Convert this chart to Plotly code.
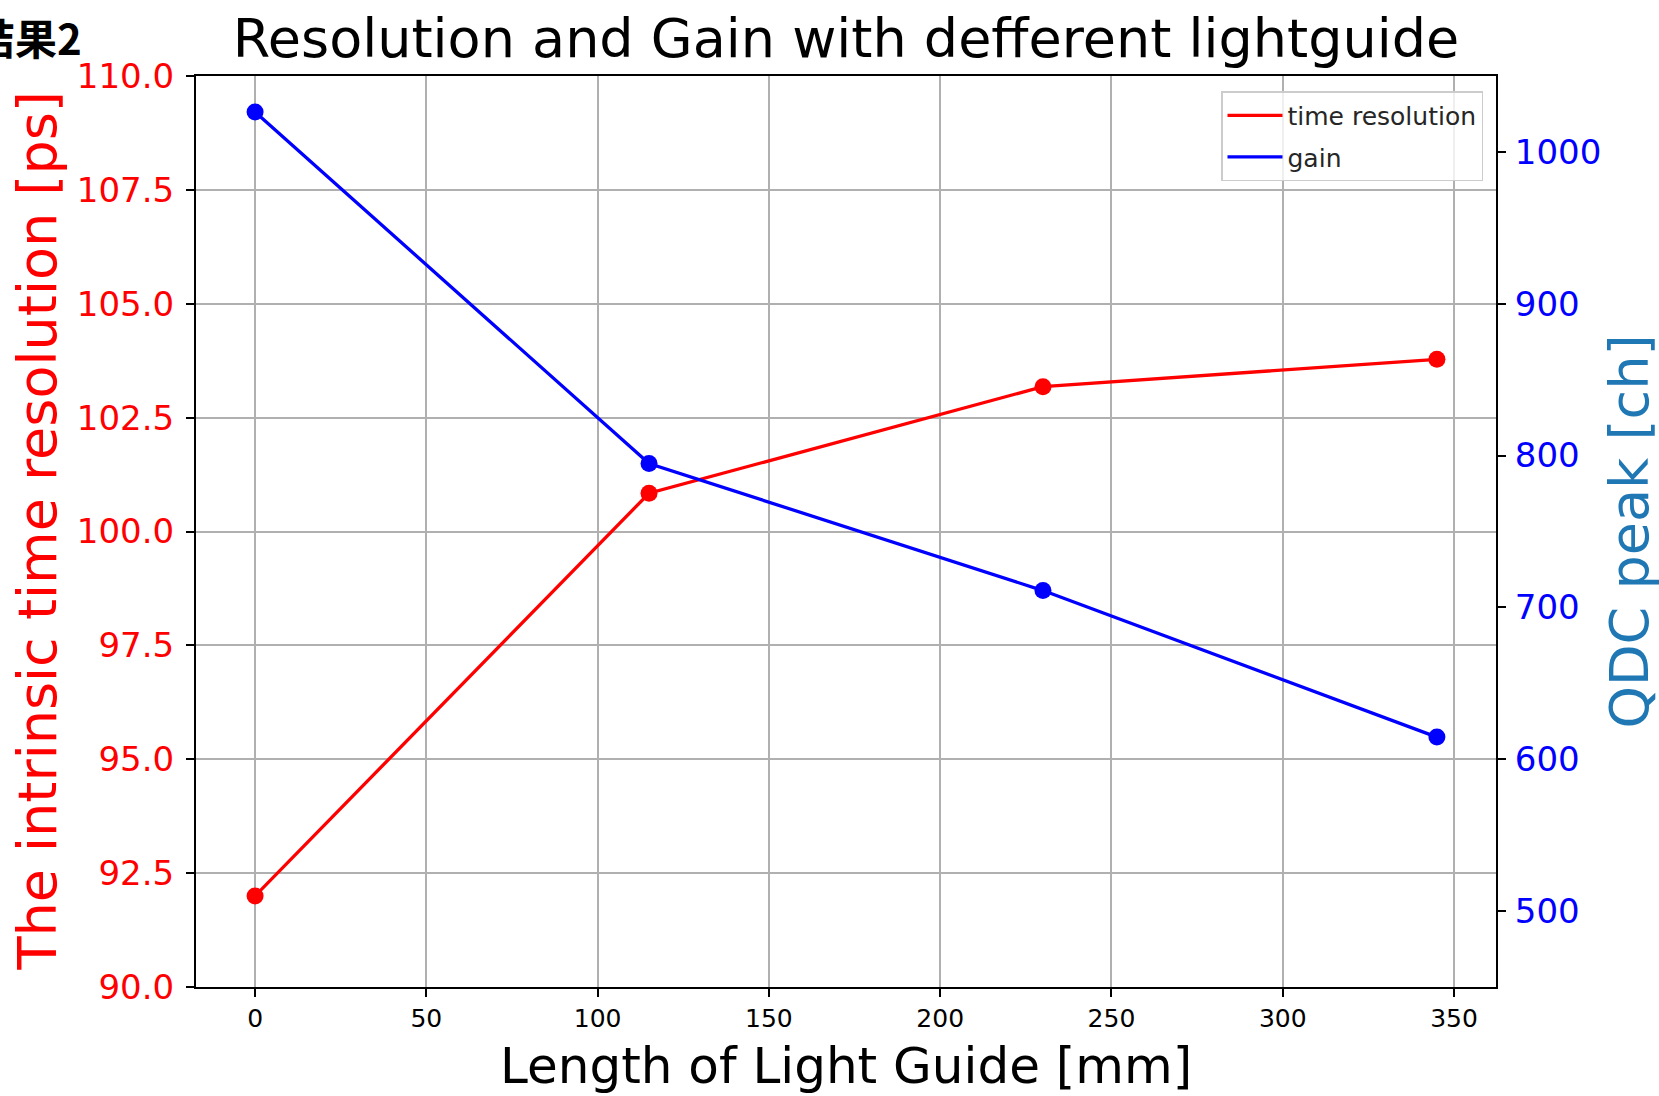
import plotly.graph_objects as go

# Data
length_mm = [0, 115, 230, 345]
time_resolution_ps = [92.0, 100.84, 103.18, 103.78]
gain_qdc = [1026.3, 794.8, 711.1, 614.6]

res_ticks = [90.0, 92.5, 95.0, 97.5, 100.0, 102.5, 105.0, 107.5, 110.0]
gain_ticks = [500, 600, 700, 800, 900, 1000]
x_ticks = [0, 50, 100, 150, 200, 250, 300, 350]

RED = "#ff0000"
BLUE = "#0000ff"
FONT = "DejaVu Sans"

fig = go.Figure()

# lines (legend entries)
fig.add_trace(go.Scatter(x=length_mm, y=time_resolution_ps, mode="lines",
                         name="time resolution", line=dict(color=RED, width=3.3),
                         legendgroup="a", yaxis="y"))
fig.add_trace(go.Scatter(x=length_mm, y=gain_qdc, mode="lines",
                         name="gain", line=dict(color=BLUE, width=3.3),
                         legendgroup="b", yaxis="y2"))
# markers (no legend)
fig.add_trace(go.Scatter(x=length_mm, y=time_resolution_ps, mode="markers",
                         showlegend=False, marker=dict(color=RED, size=17),
                         legendgroup="a", yaxis="y"))
fig.add_trace(go.Scatter(x=length_mm, y=gain_qdc, mode="markers",
                         showlegend=False, marker=dict(color=BLUE, size=17),
                         legendgroup="b", yaxis="y2"))

fig.update_layout(
    width=1659, height=1096,
    margin=dict(l=196, r=163, t=76, b=109, autoexpand=False),
    paper_bgcolor="white", plot_bgcolor="white",
    font=dict(family=FONT, color="black"),
    title=dict(text="Resolution and Gain with defferent lightguide",
               x=0.5, xref="paper", y=1 - 38 / 1096, yref="container",
               xanchor="center", yanchor="middle",
               font=dict(family=FONT, size=54, color="black")),
    xaxis=dict(range=[-17.25, 362.25], tickvals=x_ticks,
               ticktext=[str(v) for v in x_ticks],
               showgrid=True, gridcolor="#b0b0b0", gridwidth=1.5,
               showline=True, linecolor="black", linewidth=2, mirror=True,
               ticks="outside", ticklen=8, tickwidth=1.5, tickcolor="black",
               tickfont=dict(family=FONT, size=25, color="black"),
               ticklabelstandoff=0,
               zeroline=False),
    yaxis=dict(range=[90, 110], tickvals=res_ticks,
               ticktext=[f"{v:.1f}" for v in res_ticks],
               showgrid=True, gridcolor="#b0b0b0", gridwidth=1.5,
               showline=True, linecolor="black", linewidth=2, mirror=True,
               ticks="outside", ticklen=8, tickwidth=1.5, tickcolor="black",
               tickfont=dict(family=FONT, size=34, color=RED),
               ticklabelstandoff=5,
               zeroline=False),
    yaxis2=dict(range=[450, 1050], tickvals=gain_ticks,
                ticktext=[str(v) for v in gain_ticks],
                overlaying="y", side="right", showgrid=False,
                showline=True, linecolor="black", linewidth=2,
                ticks="outside", ticklen=8, tickwidth=1.5, tickcolor="black",
                tickfont=dict(family=FONT, size=34, color=BLUE),
                ticklabelstandoff=2,
                zeroline=False),
    legend=dict(x=0.990, y=0.9835, xanchor="right", yanchor="top",
                bgcolor="rgba(255,255,255,0.8)", bordercolor="#cccccc",
                borderwidth=1.5, itemwidth=55, traceorder="grouped",
                tracegroupgap=6,
                font=dict(family=FONT, size=25, color="#262626")),
    showlegend=True,
)

annotations = [
    dict(text="The intrinsic time resolution [ps]", xref="paper", yref="paper",
         x=(37 - 196) / 1300, y=0.5, xanchor="center", yanchor="middle",
         textangle=-90, showarrow=False,
         font=dict(family=FONT, size=54, color=RED)),
    dict(text="QDC peak [ch]", xref="paper", yref="paper",
         x=(1629 - 196) / 1300, y=0.5, xanchor="center", yanchor="middle",
         textangle=-90, showarrow=False,
         font=dict(family=FONT, size=54, color="#1f77b4")),
    dict(text="Length of Light Guide [mm]", xref="paper", yref="paper",
         x=0.5, y=(987 - 1066) / 911, xanchor="center", yanchor="middle",
         showarrow=False, font=dict(family=FONT, size=50, color="black")),
    dict(text="<b>结果2</b>", xref="paper", yref="paper",
         x=(84 - 196) / 1300, y=(987 - 36) / 911, xanchor="right", yanchor="middle",
         showarrow=False,
         font=dict(family="Noto Sans CJK SC", size=42, color="black")),
]
fig.update_layout(annotations=annotations)

fig.write_html("out.html", config={"displayModeBar": False},
               post_script="document.body.style.margin='0';document.body.style.overflow='hidden';")
